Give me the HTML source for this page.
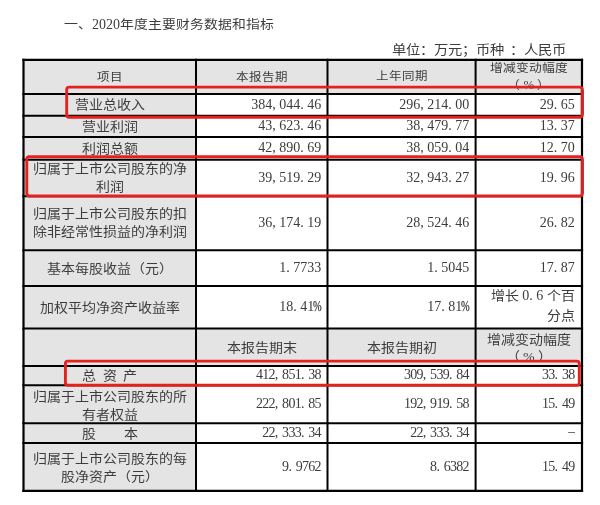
<!DOCTYPE html>
<html lang="zh-CN"><head><meta charset="utf-8"><title>2020年度主要财务数据和指标</title>
<style>
html,body{margin:0;padding:0;background:#fff}
body{filter:blur(0.35px)}
body{width:600px;height:505px;overflow:hidden;position:relative;font-family:"Liberation Serif",serif;color:#3c3c3c}
svg{position:absolute;left:0;top:0}
.t{position:absolute;white-space:nowrap;text-spacing-trim:space-all}
.cj{transform:scaleY(0.900)}
.p{display:inline-block;width:0.5em;text-align:left}
.pc{display:inline-block;width:8.4px;margin-left:-1.4px;text-align:left;transform:scaleX(0.74);transform-origin:0 50%;-webkit-text-stroke:0.25px #333}
.dash{display:inline-block;transform:translateY(-0.8px) scaleX(0.95)}
.d{font-size:14px;display:inline-block;transform:scaleY(1.1111)}
.d0{display:inline-block;transform:scaleY(1.1111)}
.pm{margin:0 3px}
.n2{letter-spacing:-0.7px}
.n2 .p{width:7.3px}
.s1{display:inline-block;width:6.7px}
.s2{display:inline-block;width:27.6px}
</style></head><body>
<svg width="600" height="505" viewBox="0 0 600 505">
<rect x="23.50" y="59.90" width="558.50" height="431.00" fill="#e4e4e4"/>
<rect x="196.00" y="94.00" width="386.00" height="21.80" fill="#fff"/>
<rect x="196.00" y="115.80" width="386.00" height="21.30" fill="#fff"/>
<rect x="196.00" y="137.10" width="386.00" height="22.70" fill="#fff"/>
<rect x="196.00" y="159.80" width="386.00" height="36.40" fill="#fff"/>
<rect x="196.00" y="196.20" width="386.00" height="54.00" fill="#fff"/>
<rect x="196.00" y="250.20" width="386.00" height="35.70" fill="#fff"/>
<rect x="196.00" y="285.90" width="386.00" height="42.70" fill="#fff"/>
<rect x="196.00" y="365.90" width="386.00" height="19.30" fill="#fff"/>
<rect x="196.00" y="385.20" width="386.00" height="38.00" fill="#fff"/>
<rect x="196.00" y="423.20" width="386.00" height="19.80" fill="#fff"/>
<rect x="196.00" y="443.00" width="386.00" height="47.90" fill="#fff"/>
<line x1="22.40" y1="59.90" x2="583.10" y2="59.90" stroke="#000" stroke-width="2.20"/>
<line x1="22.40" y1="94.00" x2="583.10" y2="94.00" stroke="#000" stroke-width="2.00"/>
<line x1="22.40" y1="115.80" x2="583.10" y2="115.80" stroke="#000" stroke-width="2.00"/>
<line x1="22.40" y1="137.10" x2="583.10" y2="137.10" stroke="#000" stroke-width="2.00"/>
<line x1="22.40" y1="159.80" x2="583.10" y2="159.80" stroke="#000" stroke-width="2.00"/>
<line x1="22.40" y1="196.20" x2="583.10" y2="196.20" stroke="#000" stroke-width="2.00"/>
<line x1="22.40" y1="250.20" x2="583.10" y2="250.20" stroke="#000" stroke-width="2.00"/>
<line x1="22.40" y1="285.90" x2="583.10" y2="285.90" stroke="#000" stroke-width="2.00"/>
<line x1="22.40" y1="328.60" x2="583.10" y2="328.60" stroke="#000" stroke-width="2.00"/>
<line x1="22.40" y1="365.90" x2="583.10" y2="365.90" stroke="#000" stroke-width="2.00"/>
<line x1="22.40" y1="385.20" x2="583.10" y2="385.20" stroke="#000" stroke-width="2.00"/>
<line x1="22.40" y1="423.20" x2="583.10" y2="423.20" stroke="#000" stroke-width="2.00"/>
<line x1="22.40" y1="443.00" x2="583.10" y2="443.00" stroke="#000" stroke-width="2.00"/>
<line x1="22.40" y1="490.90" x2="583.10" y2="490.90" stroke="#000" stroke-width="2.20"/>
<line x1="23.50" y1="58.80" x2="23.50" y2="492.00" stroke="#000" stroke-width="2.20"/>
<line x1="196.00" y1="58.80" x2="196.00" y2="492.00" stroke="#000" stroke-width="2.00"/>
<line x1="327.50" y1="58.80" x2="327.50" y2="492.00" stroke="#000" stroke-width="2.00"/>
<line x1="475.60" y1="58.80" x2="475.60" y2="492.00" stroke="#000" stroke-width="2.00"/>
<line x1="582.00" y1="58.80" x2="582.00" y2="492.00" stroke="#000" stroke-width="2.20"/>
</svg>
<div class="t cj" style="top:14.80px;font-size:13.85px;line-height:20.00px;left:64.00px;">一、<span class="d">2020</span>年度主要财务数据和指标</div>
<div class="t cj" style="top:39.10px;font-size:14.30px;line-height:20.00px;left:391.80px;">单位：万元；币种</div>
<div class="t cj" style="top:39.10px;font-size:14.30px;line-height:20.00px;left:510.20px;">：人民币</div>
<div class="t cj" style="top:66.50px;font-size:12.50px;line-height:20.00px;left:23.75px;width:172.00px;text-align:center;">项目</div>
<div class="t cj" style="top:66.50px;font-size:12.50px;line-height:20.00px;left:175.75px;width:172.00px;text-align:center;">本报告期</div>
<div class="t cj" style="top:66.30px;font-size:12.50px;line-height:20.00px;left:315.55px;width:172.00px;text-align:center;">上年同期</div>
<div class="t cj" style="top:58.39px;font-size:12.80px;line-height:19.11px;left:442.80px;width:172.00px;text-align:center;">增减变动幅度<br>（<span class="pm">%</span>）</div>
<div class="t cj" style="top:94.90px;font-size:14.00px;line-height:20.00px;left:23.75px;width:172.00px;text-align:center;">营业总收入</div>
<div class="t cj" style="top:116.50px;font-size:14.00px;line-height:20.00px;left:23.75px;width:172.00px;text-align:center;">营业利润</div>
<div class="t cj" style="top:138.80px;font-size:14.00px;line-height:20.00px;left:23.75px;width:172.00px;text-align:center;">利润总额</div>
<div class="t cj" style="top:158.00px;font-size:14.00px;line-height:20.00px;left:23.75px;width:172.00px;text-align:center;">归属于上市公司股东的净<br>利润</div>
<div class="t cj" style="top:203.30px;font-size:14.00px;line-height:20.00px;left:23.75px;width:172.00px;text-align:center;">归属于上市公司股东的扣<br>除非经常性损益的净利润</div>
<div class="t cj" style="top:258.50px;font-size:14.00px;line-height:20.00px;left:23.75px;width:172.00px;text-align:center;">基本每股收益（元）</div>
<div class="t cj" style="top:297.80px;font-size:14.00px;line-height:20.00px;left:23.75px;width:172.00px;text-align:center;">加权平均净资产收益率</div>
<div class="t cj" style="top:366.10px;font-size:14.00px;line-height:20.00px;left:23.75px;width:172.00px;text-align:center;">总<span class="s1">&nbsp;</span>资<span class="s1">&nbsp;</span>产</div>
<div class="t cj" style="top:385.50px;font-size:14.00px;line-height:20.00px;left:23.75px;width:172.00px;text-align:center;">归属于上市公司股东的所<br>有者权益</div>
<div class="t cj" style="top:424.10px;font-size:14.00px;line-height:20.00px;left:23.75px;width:172.00px;text-align:center;">股<span class="s2">&nbsp;</span>本</div>
<div class="t cj" style="top:448.20px;font-size:14.00px;line-height:20.00px;left:23.75px;width:172.00px;text-align:center;">归属于上市公司股东的每<br>股净资产（元）</div>
<div class="t " style="top:95.50px;font-size:14.00px;line-height:18.00px;right:278.80px;text-align:right;">384<span class="p">,</span>044<span class="p">.</span>46</div>
<div class="t " style="top:95.50px;font-size:14.00px;line-height:18.00px;right:130.80px;text-align:right;">296<span class="p">,</span>214<span class="p">.</span>00</div>
<div class="t " style="top:95.50px;font-size:14.00px;line-height:18.00px;right:25.20px;text-align:right;">29<span class="p">.</span>65</div>
<div class="t " style="top:117.05px;font-size:14.00px;line-height:18.00px;right:278.80px;text-align:right;">43<span class="p">,</span>623<span class="p">.</span>46</div>
<div class="t " style="top:117.05px;font-size:14.00px;line-height:18.00px;right:130.80px;text-align:right;">38<span class="p">,</span>479<span class="p">.</span>77</div>
<div class="t " style="top:117.05px;font-size:14.00px;line-height:18.00px;right:25.20px;text-align:right;">13<span class="p">.</span>37</div>
<div class="t " style="top:139.05px;font-size:14.00px;line-height:18.00px;right:278.80px;text-align:right;">42<span class="p">,</span>890<span class="p">.</span>69</div>
<div class="t " style="top:139.05px;font-size:14.00px;line-height:18.00px;right:130.80px;text-align:right;">38<span class="p">,</span>059<span class="p">.</span>04</div>
<div class="t " style="top:139.05px;font-size:14.00px;line-height:18.00px;right:25.20px;text-align:right;">12<span class="p">.</span>70</div>
<div class="t " style="top:168.60px;font-size:14.00px;line-height:18.00px;right:278.80px;text-align:right;">39<span class="p">,</span>519<span class="p">.</span>29</div>
<div class="t " style="top:168.60px;font-size:14.00px;line-height:18.00px;right:130.80px;text-align:right;">32<span class="p">,</span>943<span class="p">.</span>27</div>
<div class="t " style="top:168.60px;font-size:14.00px;line-height:18.00px;right:25.20px;text-align:right;">19<span class="p">.</span>96</div>
<div class="t " style="top:213.80px;font-size:14.00px;line-height:18.00px;right:278.80px;text-align:right;">36<span class="p">,</span>174<span class="p">.</span>19</div>
<div class="t " style="top:213.80px;font-size:14.00px;line-height:18.00px;right:130.80px;text-align:right;">28<span class="p">,</span>524<span class="p">.</span>46</div>
<div class="t " style="top:213.80px;font-size:14.00px;line-height:18.00px;right:25.20px;text-align:right;">26<span class="p">.</span>82</div>
<div class="t " style="top:258.65px;font-size:14.00px;line-height:18.00px;right:278.80px;text-align:right;">1<span class="p">.</span>7733</div>
<div class="t " style="top:258.65px;font-size:14.00px;line-height:18.00px;right:130.80px;text-align:right;">1<span class="p">.</span>5045</div>
<div class="t " style="top:258.65px;font-size:14.00px;line-height:18.00px;right:25.20px;text-align:right;">17<span class="p">.</span>87</div>
<div class="t " style="top:297.85px;font-size:14.00px;line-height:18.00px;right:278.80px;text-align:right;">18<span class="p">.</span>41<span class="pc">%</span></div>
<div class="t " style="top:297.85px;font-size:14.00px;line-height:18.00px;right:130.80px;text-align:right;">17<span class="p">.</span>81<span class="pc">%</span></div>
<div class="t n2" style="top:366.15px;font-size:14.00px;line-height:18.00px;right:279.10px;text-align:right;">412<span class="p">,</span>851<span class="p">.</span>38</div>
<div class="t n2" style="top:366.15px;font-size:14.00px;line-height:18.00px;right:131.10px;text-align:right;">309<span class="p">,</span>539<span class="p">.</span>84</div>
<div class="t n2" style="top:366.15px;font-size:14.00px;line-height:18.00px;right:25.50px;text-align:right;">33<span class="p">.</span>38</div>
<div class="t n2" style="top:394.80px;font-size:14.00px;line-height:18.00px;right:279.10px;text-align:right;">222<span class="p">,</span>801<span class="p">.</span>85</div>
<div class="t n2" style="top:394.80px;font-size:14.00px;line-height:18.00px;right:131.10px;text-align:right;">192<span class="p">,</span>919<span class="p">.</span>58</div>
<div class="t n2" style="top:394.80px;font-size:14.00px;line-height:18.00px;right:25.50px;text-align:right;">15<span class="p">.</span>49</div>
<div class="t n2" style="top:423.70px;font-size:14.00px;line-height:18.00px;right:279.10px;text-align:right;">22<span class="p">,</span>333<span class="p">.</span>34</div>
<div class="t n2" style="top:423.70px;font-size:14.00px;line-height:18.00px;right:131.10px;text-align:right;">22<span class="p">,</span>333<span class="p">.</span>34</div>
<div class="t n2" style="top:423.70px;font-size:14.00px;line-height:18.00px;right:25.50px;text-align:right;"><span class="dash">&ndash;</span></div>
<div class="t n2" style="top:457.55px;font-size:14.00px;line-height:18.00px;right:279.10px;text-align:right;">9<span class="p">.</span>9762</div>
<div class="t n2" style="top:457.55px;font-size:14.00px;line-height:18.00px;right:131.10px;text-align:right;">8<span class="p">.</span>6382</div>
<div class="t n2" style="top:457.55px;font-size:14.00px;line-height:18.00px;right:25.50px;text-align:right;">15<span class="p">.</span>49</div>
<div class="t cj" style="top:283.17px;font-size:14.00px;line-height:23.33px;right:25.20px;text-align:right;">增长&nbsp;<span class="d0">0<span class="p">.</span>6</span>&nbsp;个百<br>分点</div>
<div class="t cj" style="top:337.50px;font-size:14.00px;line-height:20.00px;left:175.75px;width:172.00px;text-align:center;">本报告期末</div>
<div class="t cj" style="top:337.50px;font-size:14.00px;line-height:20.00px;left:315.55px;width:172.00px;text-align:center;">本报告期初</div>
<div class="t cj" style="top:328.56px;font-size:14.00px;line-height:19.44px;left:442.80px;width:172.00px;text-align:center;">增减变动幅度<br>（<span class="pm">%</span>）</div>
<svg width="600" height="505" viewBox="0 0 600 505">
<rect x="66.70" y="87.10" width="515.60" height="30.20" rx="2.5" fill="none" stroke="#e3221e" stroke-width="2.9"/>
<rect x="26.80" y="156.80" width="555.50" height="39.20" rx="2.5" fill="none" stroke="#e3221e" stroke-width="2.9"/>
<rect x="65.40" y="361.10" width="513.90" height="24.10" rx="2.5" fill="none" stroke="#e3221e" stroke-width="2.9"/>
<line x1="582.3" y1="90" x2="582.3" y2="114.5" stroke="#c6272a" stroke-width="2.9"/>
<line x1="582.3" y1="159.5" x2="582.3" y2="193.5" stroke="#c6272a" stroke-width="2.9"/>
</svg>
</body></html>
